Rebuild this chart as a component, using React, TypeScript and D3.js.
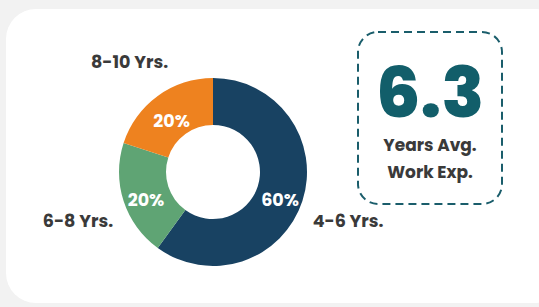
import React from 'react';
import * as d3 from 'd3';

// slice data (clockwise from 12 o'clock)
const categories = ['4-6 Yrs.', '6-8 Yrs.', '8-10 Yrs.'];
const shares = [60, 20, 20];
const colors = ['#184262', '#5fa474', '#ee821f'];

const statValue = '6.3';
const statLines = ['Years Avg.', 'Work Exp.'];

const W = 539;
const H = 307;
const FONT = 'Poppins, Inter, "Noto Sans", sans-serif';

const App = () => {
  const cx = 213;
  const cy = 172;
  const outerR = 94;
  const innerR = 47;

  const data = categories.map((c, i) => ({ label: c, value: shares[i], color: colors[i] }));

  const pie = d3
    .pie<{ label: string; value: number; color: string }>()
    .value(d => d.value)
    .sort(null);
  const arcs = pie(data);

  const arc = d3
    .arc<d3.PieArcDatum<{ label: string; value: number; color: string }>>()
    .innerRadius(innerR)
    .outerRadius(outerR);

  // outer category labels
  const labelArc = d3
    .arc<d3.PieArcDatum<{ label: string; value: number; color: string }>>()
    .innerRadius(142)
    .outerRadius(142);

  // stat box
  const box = { x: 358, y: 32, w: 144, h: 172 };
  const boxMid = box.x + box.w / 2;

  return (
    <svg
      width={W}
      height={H}
      style={{ position: 'fixed', left: 0, top: 0, display: 'block' }}
    >
      <rect x={0} y={0} width={W} height={H} fill="#f2f2f2" />
      <rect x={6} y={9} width={560} height={294} rx={30} fill="#ffffff" />

      <g transform={`translate(${cx},${cy})`}>
        {arcs.map((a, i) => (
          <path key={i} d={arc(a) || ''} fill={a.data.color} />
        ))}
        {arcs.map((a, i) => {
          const [x, y] = arc.centroid(a);
          return (
            <text
              key={'p' + i}
              x={x}
              y={y + 7}
              textAnchor="middle"
              dominantBaseline="middle"
              fill="#ffffff"
              fontFamily={FONT}
              fontWeight={700}
              fontSize={17.5}
            >
              {a.data.value}%
            </text>
          );
        })}
        {arcs.map((a, i) => {
          const [x, y] = labelArc.centroid(a);
          return (
            <text
              key={'l' + i}
              x={x}
              y={y + 6}
              textAnchor="middle"
              dominantBaseline="middle"
              fill="#3a3a3a"
              fontFamily={FONT}
              fontWeight={700}
              fontSize={17.5}
            >
              {a.data.label}
            </text>
          );
        })}
      </g>

      <rect
        x={box.x}
        y={box.y}
        width={box.w}
        height={box.h}
        rx={20}
        fill="none"
        stroke="#1a5d6b"
        strokeWidth={2}
        strokeDasharray="8 5"
      />
      <text
        x={boxMid}
        y={117}
        textAnchor="middle"
        fill="#125e6a"
        fontFamily={FONT}
        fontWeight={800}
        fontSize={70}
      >
        {statValue}
      </text>
      {statLines.map((t, i) => (
        <text
          key={t}
          x={boxMid}
          y={151 + i * 27}
          textAnchor="middle"
          fill="#3a3a3a"
          fontFamily={FONT}
          fontWeight={700}
          fontSize={17}
        >
          {t}
        </text>
      ))}
    </svg>
  );
};

export default App;
